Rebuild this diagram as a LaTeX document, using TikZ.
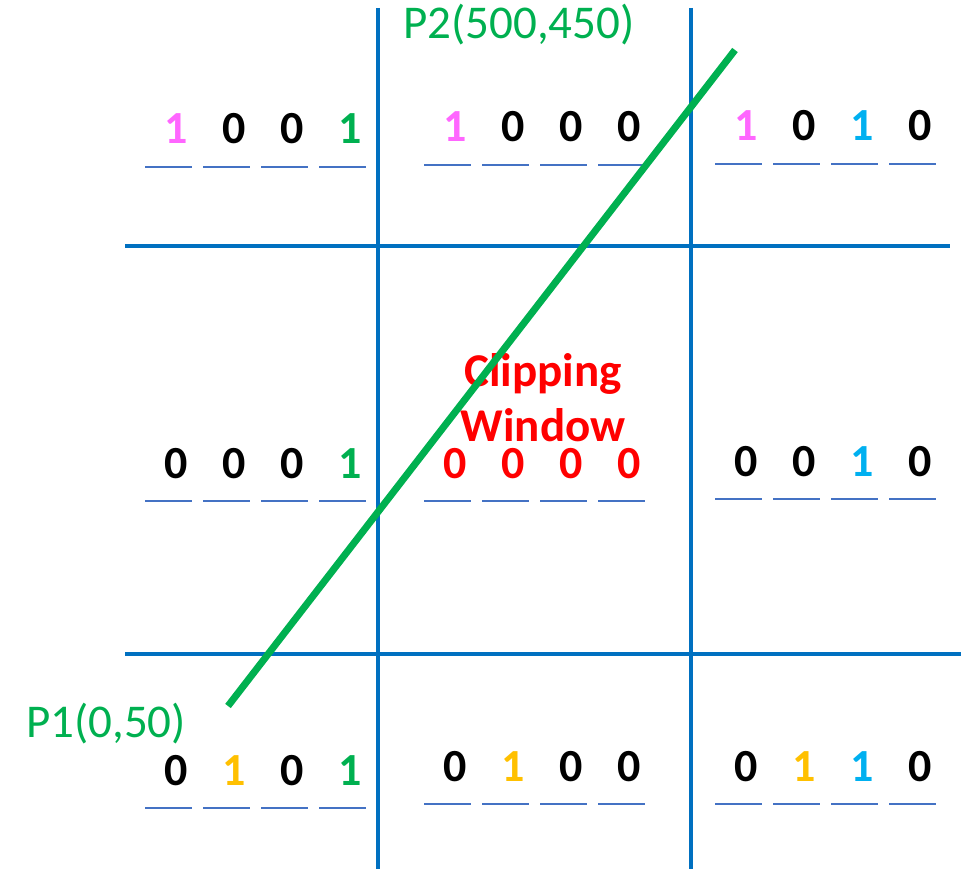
\documentclass[tikz,border=0pt]{standalone}
\usepackage{fontspec}
\setmainfont{Carlito}
\definecolor{gridblue}{HTML}{0070C0}
\definecolor{linegreen}{HTML}{00B050}
\definecolor{ulblue}{HTML}{4472C4}
\definecolor{pk}{HTML}{FF66FF}
\definecolor{lb}{HTML}{00B0F0}
\definecolor{yl}{HTML}{FFC000}
\definecolor{rd}{HTML}{FF0000}
\definecolor{bk}{HTML}{000000}
\tikzset{
  digit/.style={font=\fontsize{46}{50}\selectfont\bfseries, anchor=base, inner sep=0pt},
  uline/.style={draw=ulblue, line width=1.6pt},
  gridline/.style={draw=gridblue, line width=4.5pt},
  greenline/.style={draw=linegreen, line width=7pt},
  plabel/.style={font=\fontsize{47}{50}\selectfont, text=linegreen, inner sep=0pt},
  cliptext/.style={font=\fontsize{47}{55}\selectfont\bfseries, text=rd, align=center, inner sep=0pt}
}
\newcommand\coderow[4]{% name, x0, baseline, color/digit list
  \foreach \c/\d [count=\i from 0] in {#4} {
    \node[digit, text=\c] (#1-\i) at (#2+31+58*\i, #3) {\d};
    \coordinate (#1-ua\i) at (#2+58*\i, #3+23);
    \coordinate (#1-ub\i) at (#2+47+58*\i, #3+23);
    \draw[uline] (#1-ua\i) -- (#1-ub\i);
  }
}
\begin{document}
\begin{tikzpicture}[x=1pt, y=-1pt]
\useasboundingbox (0,0) rectangle (966,869);
% region codes
\coderow{tl}{145}{144}{pk/1, bk/0, bk/0, linegreen/1}
\coderow{tm}{424}{142}{pk/1, bk/0, bk/0, bk/0}
\coderow{tr}{715}{141}{pk/1, bk/0, lb/1, bk/0}
\coderow{ml}{145}{478}{bk/0, bk/0, bk/0, linegreen/1}
\coderow{mm}{424}{478}{rd/0, rd/0, rd/0, rd/0}
\coderow{mr}{715}{476}{bk/0, bk/0, lb/1, bk/0}
\coderow{bl}{145}{785}{bk/0, yl/1, bk/0, linegreen/1}
\coderow{bm}{424}{781}{bk/0, yl/1, bk/0, bk/0}
\coderow{br}{715}{781}{bk/0, yl/1, lb/1, bk/0}
% clipping window label
\node[cliptext, anchor=base] (clip1) at (543,386) {Clipping};
\node[cliptext, anchor=base] (clip2) at (543,441) {Window};
% grid
\coordinate (v1t) at (378,8);   \coordinate (v1b) at (378,869);
\coordinate (v2t) at (691,8);   \coordinate (v2b) at (691,869);
\coordinate (h1l) at (125,246); \coordinate (h1r) at (950,246);
\coordinate (h2l) at (125,654); \coordinate (h2r) at (961,654);
\draw[gridline] (v1t) -- (v1b);
\draw[gridline] (v2t) -- (v2b);
\draw[gridline] (h1l) -- (h1r);
\draw[gridline] (h2l) -- (h2r);
% line P1-P2
\coordinate (p1) at (228,706);
\coordinate (p2) at (735,50);
\draw[greenline] (p1) -- (p2);
\node[plabel, anchor=base] (p1lab) at (106,737) {P1(0,50)};
\node[plabel, anchor=base] (p2lab) at (519,39) {P2(500,450)};
\end{tikzpicture}
\end{document}
